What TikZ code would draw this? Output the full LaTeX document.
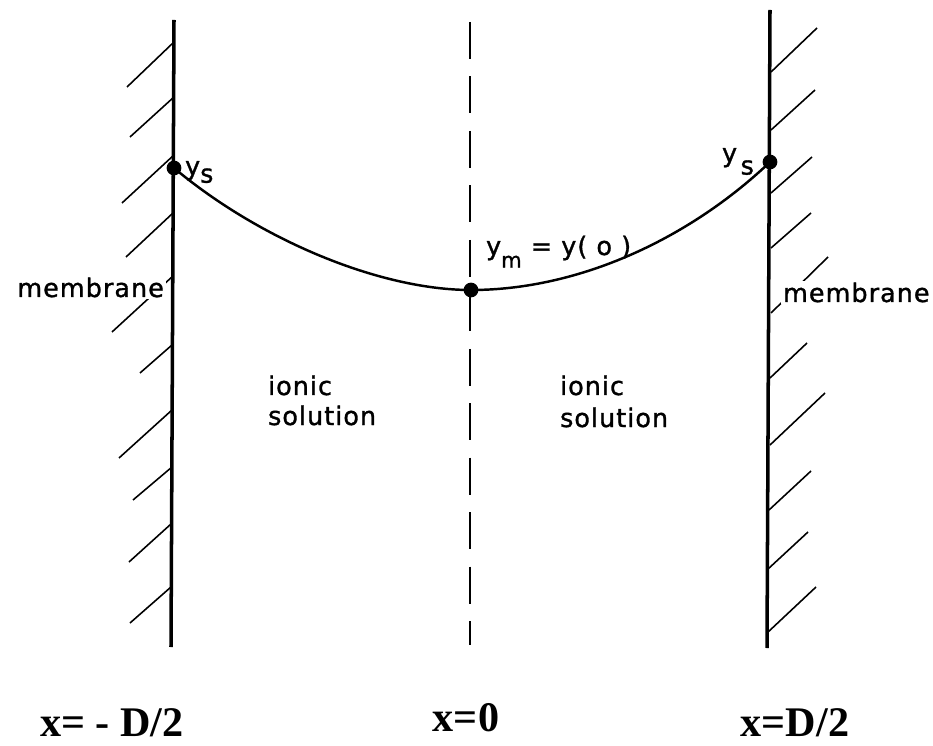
\documentclass[tikz,border=0pt]{standalone}
\usepackage{fontspec}
\usepackage{tikz}
\usetikzlibrary{positioning, calc}
\newfontfamily\drawfont[LetterSpace=4, FakeBold=1.2]{DejaVu Sans}
\newfontfamily\labfont{Liberation Serif}
\newcommand{\lowsub}[2]{\raisebox{#1}{#2}}

\tikzset{
  wall/.style={line width=2pt},
  hatch/.style={line width=0.9pt},
  midline/.style={line width=1.5pt, dash pattern=on 21pt off 10pt},
  profile/.style={line width=1.4pt},
  blob/.style={circle, fill=black, inner sep=0pt, minimum size=8.4pt},
  lettering/.style={font=\drawfont\fontsize{14.5pt}{17pt}\selectfont, inner sep=1pt},
  axislabel/.style={font=\labfont\bfseries\fontsize{24pt}{28pt}\selectfont, inner sep=0pt}
}

\begin{document}
\begin{tikzpicture}[x=0.02cm, y=-0.02cm]
    \useasboundingbox (0,0) rectangle (933,746);

    % Left membrane wall
    \draw[wall] (174,20) -- (171,647);
    \draw[hatch] (174,42) -- (127,87);
    \draw[hatch] (174,97) -- (130,137);
    \draw[hatch] (174,155) -- (122,203);
    \draw[hatch] (173,213) -- (126,257);
    \draw[hatch] (173,276) -- (112,332);
    \draw[hatch] (172,345) -- (140,373);
    \draw[hatch] (172,410) -- (119,458);
    \draw[hatch] (172,467) -- (133,500);
    \draw[hatch] (171,524) -- (129,562);
    \draw[hatch] (171,587) -- (130,623);

    % Right membrane wall
    \draw[wall] (770,10) -- (767,648);
    \draw[hatch] (771,72) -- (817,28);
    \draw[hatch] (771,130) -- (815,90);
    \draw[hatch] (771,193) -- (812,157);
    \draw[hatch] (771,248) -- (811,213);
    \draw[hatch] (771,313) -- (828,257);
    \draw[hatch] (770,378) -- (807,343);
    \draw[hatch] (770,445) -- (825,393);
    \draw[hatch] (769,510) -- (811,471);
    \draw[hatch] (768,569) -- (808,532);
    \draw[hatch] (767,633) -- (816,587);

    % Mid plane x=0
    \draw[midline] (470,22) -- (470,645);

    % Potential profile
    \node[blob] (ysl) at (174,168) {};
    \node[blob] (ym) at (471,290) {};
    \node[blob] (ysr) at (770,162) {};
    \draw[profile] (ysl.center) .. controls (260,240) and (380,290) .. (ym.center)
        .. controls (580,290) and (690,238) .. (ysr.center);

    \node[lettering, anchor=base west] (ysllabel) at (183,175) {y\lowsub{-0.55ex}{s}};
    \node[lettering, anchor=base east] (ysrlabel) at (756,162) {y\hspace{2pt}\lowsub{-0.9ex}{s}};
    \node[lettering, anchor=base west] (ymlabel) at (484,255)
        {y\lowsub{-0.9ex}{\fontsize{12pt}{13pt}\selectfont m} = y( o )};

    % Regions
    \node[lettering, fill=white, anchor=base east] (memleft) at (166,297) {membrane};
    \node[lettering, fill=white, anchor=base west] (memright) at (781,302) {membrane};
    \node[lettering, anchor=base west] (ionleft) at (266,395) {ionic};
    \node[lettering, anchor=base west] (solleft) at (266,425) {solution};
    \node[lettering, anchor=base west] (ionright) at (558,395) {ionic};
    \node[lettering, anchor=base west] (solright) at (558,427) {solution};

    % Positions
    \node[axislabel, anchor=base] (xleft) at (112,736) {x= - D/2};
    \node[axislabel, anchor=base] (xmid) at (466,731) {x=0};
    \node[axislabel, anchor=base] (xright) at (795,736) {x=D/2};
\end{tikzpicture}
\end{document}
